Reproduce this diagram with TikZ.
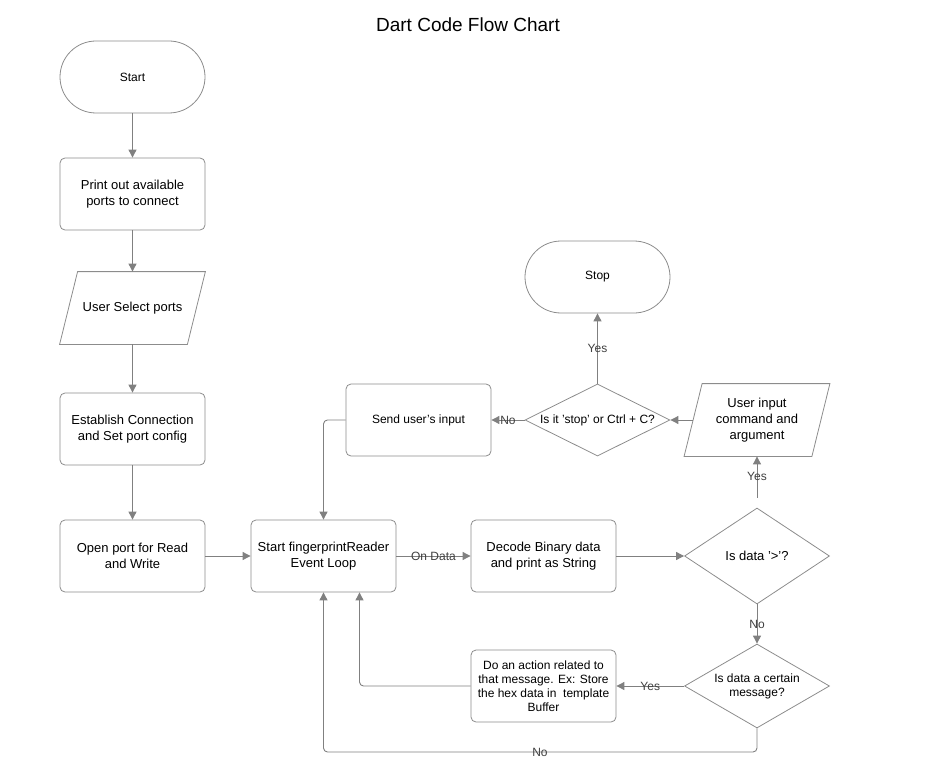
\documentclass[tikz,border=0pt]{standalone}
\usepackage{fontspec}
\setmainfont{Liberation Sans}
\usetikzlibrary{shapes.geometric, arrows.meta, positioning}

\definecolor{edgegray}{HTML}{808080}
\definecolor{boxgray}{HTML}{8C8C8C}

\tikzset{
  base/.style = {draw = boxgray, line width = 0.8pt, align = center, inner sep = 0pt,
                 font = \fontsize{13}{16}\selectfont},
  procbox/.style = {base, rectangle, rounded corners = 5pt, minimum width = 145pt, minimum height = 72pt},
  termbox/.style = {base, rectangle, rounded corners = 36pt, minimum width = 145pt, minimum height = 72pt},
  iobox/.style = {base, draw = none, rectangle, minimum width = 145pt, minimum height = 72pt},
  decbox/.style = {base, diamond, minimum width = 145pt, minimum height = 96pt},
  small/.style = {font = \fontsize{12}{14}\selectfont},
  txt/.style = {align = center, inner sep = 0pt, font = \fontsize{13}{16}\selectfont},
  conn/.style = {draw = edgegray, line width = 0.9pt, rounded corners = 4pt,
                 -{Triangle[length = 8pt, width = 8pt]}},
  edgelabel/.style = {text = black!75, inner sep = 1pt, font = \fontsize{12}{14}\selectfont}
}

% slanted frame round an io node
\newcommand{\slantframe}[1]{%
  \draw[draw = boxgray, line width = 0.8pt] ([xshift = 18pt]#1.north west) -- (#1.north east)
    -- ([xshift = -18pt]#1.south east) -- (#1.south west) -- cycle;}

\begin{document}
\begin{tikzpicture}[x = 1pt, y = -1pt]
\useasboundingbox (0, 0) rectangle (940, 757);

\node[txt, font = \fontsize{19}{22}\selectfont] (title) at (468, 25) {Dart Code Flow Chart};

% left column
\node[termbox, small] (start) at (132.5, 77) {Start};
\node[procbox] (print) at (132.5, 194) {Print out available\\ports to connect};
\node[iobox] (select) at (132.5, 308) {User Select ports};
\slantframe{select}
\node[procbox] (establish) at (132.5, 429) {Establish Connection\\and Set port config};
\node[procbox] (open) at (132.5, 556) {Open port for Read\\and Write};

% event loop
\node[procbox] (loop) at (323.5, 556) {Start fingerprintReader\\Event Loop};
\node[procbox] (decode) at (543.5, 556) {Decode Binary data\\and print as String};
\node[decbox] (isprompt) at (757, 556) {};
\node[txt] at (isprompt) {Is data '>'?};
\node[decbox, minimum height = 84pt] (ismsg) at (757, 686) {};
\node[txt, small] at (ismsg) {Is data a certain\\message?};
\node[procbox, small] (action) at (543.5, 686) {Do an action related to\\that message. Ex: Store\\the hex data in \ template\\Buffer};

% user input
\node[iobox] (userin) at (757, 420) {User input\\command and\\argument};
\slantframe{userin}
\node[decbox, minimum height = 72pt] (isstop) at (597.5, 420) {};
\node[txt, small] at (isstop) {Is it 'stop' or Ctrl + C?};
\node[procbox, small] (send) at (418.5, 420) {Send user's input};
\node[termbox, small] (stop) at (597.5, 277) {Stop};

\draw[conn] (start) -- (print);
\draw[conn] (print) -- (select);
\draw[conn] (select) -- (establish);
\draw[conn] (establish) -- (open);
\draw[conn] (open) -- (loop);
\draw[conn] (loop) -- node[edgelabel] {On Data} (decode);
\draw[conn] (decode) -- (isprompt);
\draw[conn] (isprompt) -- node[edgelabel] {No} (ismsg);
\draw[conn, shorten <= 10pt] (isprompt) -- node[edgelabel, pos = 0.6] {Yes} (userin);
\draw[conn] ([xshift = 9pt]userin.west) -- (isstop);
\draw[conn] (isstop) -- node[edgelabel] {Yes} (stop);
\draw[conn] (isstop) -- node[edgelabel] {No} (send);
\draw[conn] (send.west) -| (loop.north);
\draw[conn] (ismsg) -- node[edgelabel] {Yes} (action);
\draw[conn] (action.west) -| ([xshift = 36pt]loop.south);
\draw[conn] (ismsg.south) |- (540, 752) node[edgelabel] {No} -| (loop.south);
\end{tikzpicture}
\end{document}
